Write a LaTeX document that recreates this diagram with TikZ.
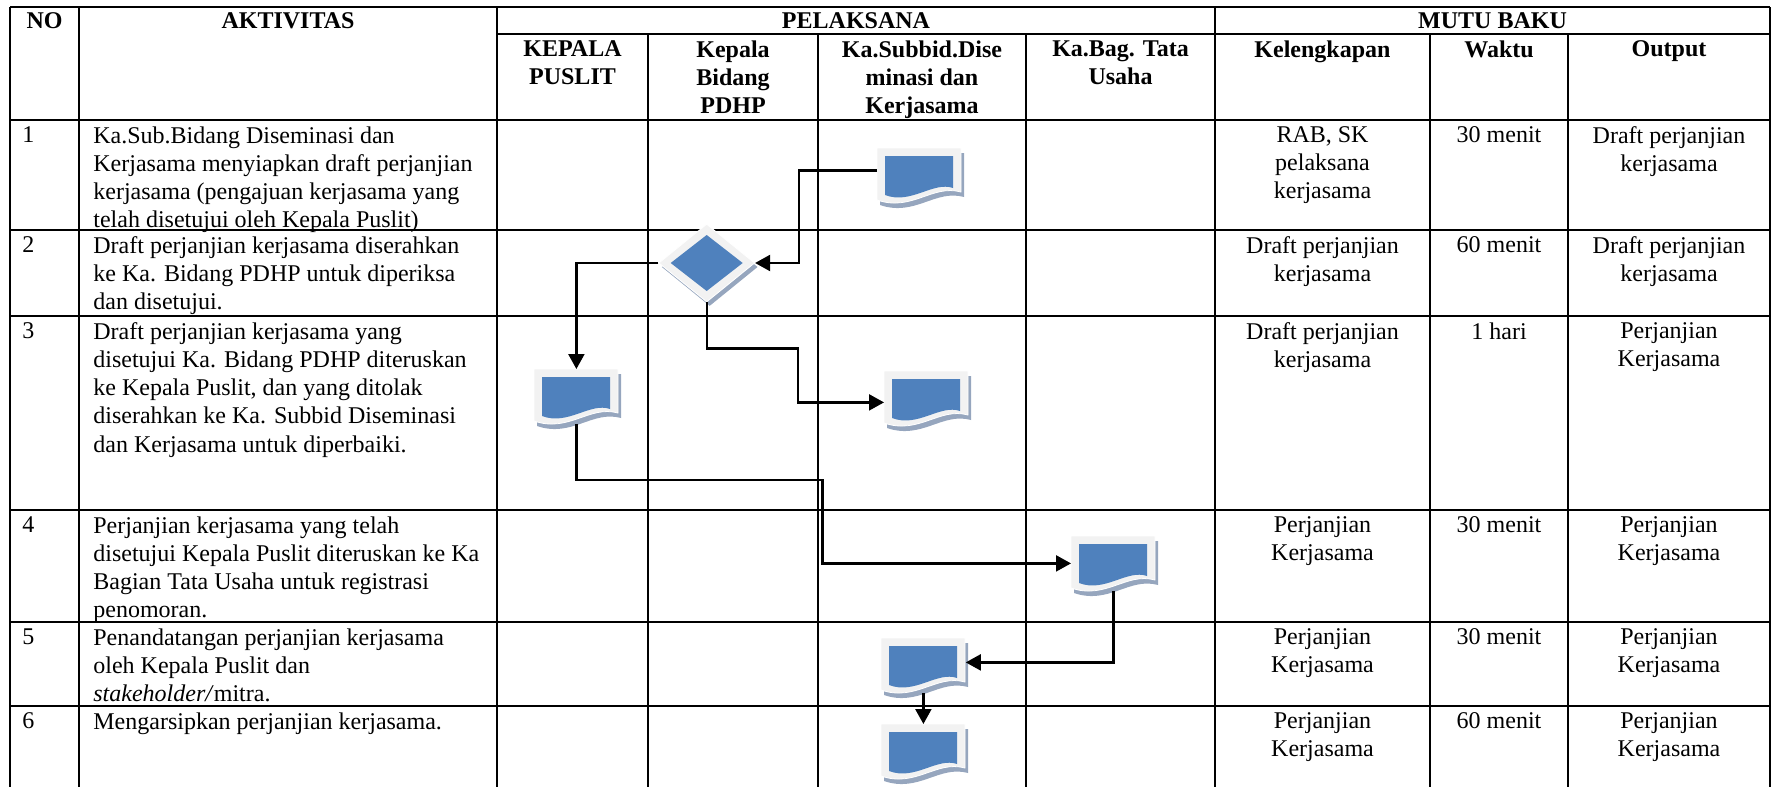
\documentclass[tikz,border=0pt]{standalone}
\usepackage{fontspec}
\setmainfont{Liberation Serif}
\usetikzlibrary{arrows.meta,shapes.geometric,shadows}

\definecolor{docblue}{RGB}{79,129,189}
\definecolor{docframe}{RGB}{242,242,242}
\definecolor{docshadow}{RGB}{150,166,190}

\newcommand{\cellfont}{\fontsize{12}{14.1}\selectfont}

% document symbol drawn at the north west corner of a doc node
\newcommand{\docshape}[1]{%
  \begin{scope}[shift={(#1.north west)}]
    \fill[docshadow] (3,5) -- (87,5) -- (87,49) .. controls (58,41) and (38,69) .. (3,57) -- cycle;
    \filldraw[fill=docframe, draw=white, line width=0.4pt] (0,0) -- (84,0) -- (84,44) .. controls (55,36) and (35,64) .. (0,52) -- cycle;
    \fill[docblue] (8,8) -- (76,8) -- (76,40) .. controls (56,33) and (34,57) .. (8,47) -- cycle;
  \end{scope}}

\begin{document}
\begin{tikzpicture}[
        x=0.5pt, y=-0.5pt,
        grid/.style={line width=0.95pt},
        cell/.style={
            anchor=north west,
            inner sep=0pt,
            align=left,
            font=\cellfont
        },
        midcell/.style={
            anchor=north,
            inner sep=0pt,
            align=center,
            font=\cellfont
        },
        head/.style={
            anchor=north,
            inner sep=0pt,
            align=center,
            font=\cellfont\bfseries
        },
        doc/.style={
            rectangle,
            anchor=north west,
            minimum width=42pt,
            minimum height=27pt,
            inner sep=0pt
        },
        decision/.style={
            diamond,
            minimum width=48pt,
            minimum height=39pt,
            inner sep=0pt,
            fill=docframe,
            draw=white,
            drop shadow={shadow xshift=1.5pt, shadow yshift=-2pt, fill=docshadow, opacity=1},
            path picture={\fill[docblue, shift={(path picture bounding box.center)}] (-36,0) -- (0,-28) -- (36,0) -- (0,28) -- cycle;}
        },
        arrow/.style={-{Triangle[length=7.5pt, width=8pt]}, line width=1.1pt}
    ]
    \useasboundingbox (0,0) rectangle (1773,787);

    % table rules
    \foreach \y in {7,120,230,316,510,622,706}
        \draw[grid] (10,\y) -- (1770,\y);
    \draw[grid] (497,34) -- (1770,34);
    \foreach \x in {10,79,497,1215,1770}
        \draw[grid] (\x,7) -- (\x,787);
    \foreach \x in {648,818,1026,1430,1568}
        \draw[grid] (\x,34) -- (\x,787);

    % header
    \node[head] (hno) at (44.5,12) {NO};
    \node[head] (hakt) at (288,12) {AKTIVITAS};
    \node[head] (hpel) at (856,12) {PELAKSANA};
    \node[head] (hmutu) at (1492.5,12) {MUTU BAKU};
    \node[head] (hkpl) at (572.5,40) {KEPALA\\PUSLIT};
    \node[head] (hkbd) at (733,40) {Kepala\\Bidang\\PDHP};
    \node[head] (hsub) at (922,40) {Ka.Subbid.Dise\\minasi dan\\Kerjasama};
    \node[head] (htu) at (1120.5,40) {Ka.Bag. Tata\\Usaha};
    \node[head] (hkel) at (1322.5,40) {Kelengkapan};
    \node[head] (hwkt) at (1499,40) {Waktu};
    \node[head] (hout) at (1669,40) {Output};

    % row 1
    \node[cell] (no1) at (22,126) {1};
    \node[cell] (akt1) at (93,126) {Ka.Sub.Bidang Diseminasi dan\\Kerjasama menyiapkan draft perjanjian\\kerjasama (pengajuan kerjasama yang\\telah disetujui oleh Kepala Puslit)};
    \node[midcell] (kel1) at (1322.5,126) {RAB, SK\\pelaksana\\kerjasama};
    \node[midcell] (wkt1) at (1499,126) {30 menit};
    \node[midcell] (out1) at (1669,126) {Draft perjanjian\\kerjasama};

    % row 2
    \node[cell] (no2) at (22,236) {2};
    \node[cell] (akt2) at (93,236) {Draft perjanjian kerjasama diserahkan\\ke Ka. Bidang PDHP untuk diperiksa\\dan disetujui.};
    \node[midcell] (kel2) at (1322.5,236) {Draft perjanjian\\kerjasama};
    \node[midcell] (wkt2) at (1499,236) {60 menit};
    \node[midcell] (out2) at (1669,236) {Draft perjanjian\\kerjasama};

    % row 3
    \node[cell] (no3) at (22,322) {3};
    \node[cell] (akt3) at (93,322) {Draft perjanjian kerjasama yang\\disetujui Ka. Bidang PDHP diteruskan\\ke Kepala Puslit, dan yang ditolak\\diserahkan ke Ka. Subbid Diseminasi\\dan Kerjasama untuk diperbaiki.};
    \node[midcell] (kel3) at (1322.5,322) {Draft perjanjian\\kerjasama};
    \node[midcell] (wkt3) at (1499,322) {1 hari};
    \node[midcell] (out3) at (1669,322) {Perjanjian\\Kerjasama};

    % row 4
    \node[cell] (no4) at (22,516) {4};
    \node[cell] (akt4) at (93,516) {Perjanjian kerjasama yang telah\\disetujui Kepala Puslit diteruskan ke Ka\\Bagian Tata Usaha untuk registrasi\\penomoran.};
    \node[midcell] (kel4) at (1322.5,516) {Perjanjian\\Kerjasama};
    \node[midcell] (wkt4) at (1499,516) {30 menit};
    \node[midcell] (out4) at (1669,516) {Perjanjian\\Kerjasama};

    % row 5
    \node[cell] (no5) at (22,628) {5};
    \node[cell] (akt5) at (93,628) {Penandatangan perjanjian kerjasama\\oleh Kepala Puslit dan\\\textit{stakeholder/}mitra.};
    \node[midcell] (kel5) at (1322.5,628) {Perjanjian\\Kerjasama};
    \node[midcell] (wkt5) at (1499,628) {30 menit};
    \node[midcell] (out5) at (1669,628) {Perjanjian\\Kerjasama};

    % row 6
    \node[cell] (no6) at (22,712) {6};
    \node[cell] (akt6) at (93,712) {Mengarsipkan perjanjian kerjasama.};
    \node[midcell] (kel6) at (1322.5,712) {Perjanjian\\Kerjasama};
    \node[midcell] (wkt6) at (1499,712) {60 menit};
    \node[midcell] (out6) at (1669,712) {Perjanjian\\Kerjasama};

    % flow symbols
    \node[doc] (d1) at (877,148) {};
    \node[doc] (d2) at (534,369) {};
    \node[doc] (d3) at (884,371) {};
    \node[doc] (d4) at (1071,536) {};
    \node[doc] (d5) at (881,638) {};
    \node[doc] (d6) at (881,724) {};
    \foreach \d in {d1,d2,d3,d4,d5,d6}
        \docshape{\d};
    \node[decision] (dec) at (706.7,263) {};

    \draw[arrow] ([yshift=2.5pt]d1.west) -- ++(-78,0) |- (dec.east);
    \draw[arrow] (dec.west) -| (d2.north);
    \draw[arrow] (dec.south) -- ++(0,46) -- ++(91,0) |- ([yshift=-2pt]d3.west);
    \draw[arrow] (d2.south) -- ++(0,56) -- ++(246,0) |- (d4.west);
    \draw[arrow] (d4.south) |- ([yshift=1.5pt]d5.east);
    \draw[arrow] (d5.south) -- (d6.north);

\end{tikzpicture}
\end{document}
